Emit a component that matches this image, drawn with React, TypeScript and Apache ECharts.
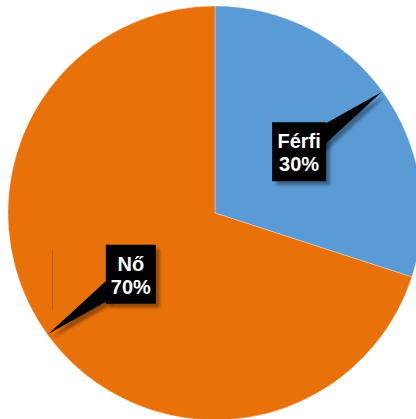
import React, { useEffect, useRef } from "react";
import * as echarts from "echarts";

const categories = ["Férfi", "Nő"];
const values = [30, 70];
const colors = ["#5B9BD5", "#E8710A"];

const W = 416;
const H = 419;
const CX = 215;
const CY = 213;
const R = 207;
const LABEL_R = 104;
const BOX_W = [54, 50];
const BOX_H = 59;

export default function App() {
  const ref = useRef<HTMLDivElement>(null);
  useEffect(() => {
    document.body.style.margin = "0";
    if (!ref.current) return;
    const chart = echarts.init(ref.current, undefined, { renderer: "svg" });
    const total = values.reduce((a, b) => a + b, 0);
    const graphics: any[] = [];
    let start = 90; // degrees, clockwise
    values.forEach((v, i) => {
      const sweep = (v / total) * 360;
      const mid = ((start - sweep / 2) * Math.PI) / 180;
      start -= sweep;
      const ux = Math.cos(mid);
      const uy = -Math.sin(mid);
      const lx = CX + LABEL_R * ux;
      const ly = CY + LABEL_R * uy;
      const tx = CX + (R - 1) * ux;
      const ty = CY + (R - 1) * uy;
      const px = -uy;
      const py = ux;
      const hw = 12;
      const pct = Math.round((v / total) * 100);
      const wedge = [
        [lx + px * hw, ly + py * hw],
        [tx, ty],
        [lx - px * hw, ly - py * hw],
      ];
      graphics.push({
        type: "polygon",
        z: 10,
        shape: { points: wedge },
        style: {
          fill: "#000",
          shadowColor: "rgba(0,0,0,0.35)",
          shadowOffsetX: 4,
          shadowOffsetY: 4,
          shadowBlur: 3,
        },
      });
      graphics.push({
        type: "rect",
        z: 11,
        shape: { x: lx - BOX_W[i] / 2, y: ly - BOX_H / 2, width: BOX_W[i], height: BOX_H },
        style: {
          fill: "#000",
          shadowColor: "rgba(0,0,0,0.35)",
          shadowOffsetX: 4,
          shadowOffsetY: 4,
          shadowBlur: 3,
        },
      });
      graphics.push({
        type: "text",
        z: 12,
        x: lx,
        y: ly + 1,
        style: {
          text: categories[i] + "\n" + pct + "%",
          fill: "#fff",
          font: "bold 20px 'Liberation Sans', Arial, sans-serif",
          textAlign: "center",
          textVerticalAlign: "middle",
          lineHeight: 23,
        },
      });
    });
    graphics.push({
      type: "line",
      z: 9,
      shape: { x1: 52.5, y1: 250, x2: 52.5, y2: 310 },
      style: { stroke: "rgba(150,80,20,0.6)", lineWidth: 1 },
    });

    chart.setOption({
      animation: false,
      graphic: graphics,
      series: [
        {
          type: "pie",
          center: [CX, CY],
          radius: R,
          startAngle: 90,
          clockwise: true,
          label: { show: false },
          labelLine: { show: false },
          itemStyle: { borderColor: "rgba(255,255,255,0.5)", borderWidth: 0.6 },
          data: categories.map((c, i) => ({
            name: c,
            value: values[i],
            itemStyle: { color: colors[i] },
          })),
        },
      ],
    });
    return () => chart.dispose();
  }, []);
  return <div ref={ref} style={{ width: W, height: H }} />;
}
